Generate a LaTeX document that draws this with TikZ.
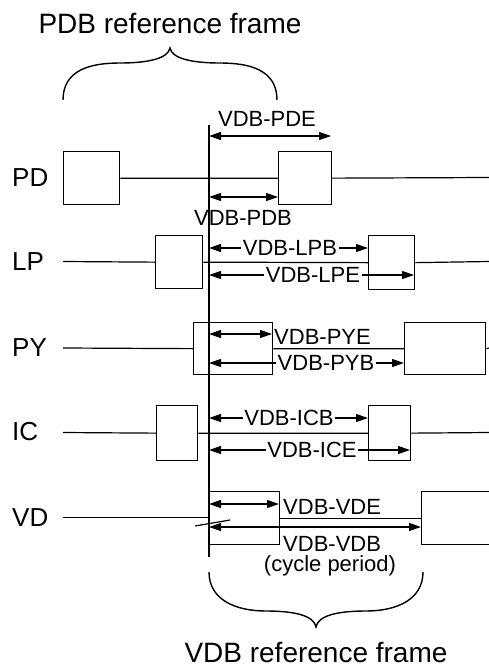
\documentclass[tikz,border=0pt]{standalone}
\usepackage{fontspec}
\setmainfont{Liberation Sans}
\usetikzlibrary{arrows.meta}
\begin{document}
\begin{tikzpicture}[x=1pt,y=-1pt,
  box/.style={draw,line width=1.3pt,inner sep=0pt,anchor=north west},
  sig/.style={line width=1.2pt},
  dim/.style={line width=1.2pt,{Triangle[length=12pt,width=8pt]}-{Triangle[length=12pt,width=8pt]}},
  lab/.style={font=\fontsize{22}{24}\selectfont,inner sep=1.5pt},
  onlab/.style={lab,fill=white},
  sidelab/.style={lab,anchor=west,inner sep=0pt},
  rowlab/.style={font=\fontsize{26}{28}\selectfont,inner sep=0pt,anchor=west},
  titlelab/.style={font=\fontsize{28}{30}\selectfont,inner sep=0pt,anchor=base},
  bracestyle/.style={line width=1.4pt}]
\useasboundingbox (0,0) rectangle (489,667);
\clip (0,0) rectangle (489,667);

% titles
\node[titlelab] (ttop) at (170,33) {PDB reference frame};
\node[titlelab] (tbot) at (316,662) {VDB reference frame};

% braces
\draw[bracestyle] (63,100) .. controls (63,70) and (90,63) .. (120,63)
  .. controls (150,63) and (168,58) .. (170,48)
  .. controls (172,58) and (190,63) .. (220,63)
  .. controls (250,63) and (277,70) .. (277,100);
\draw[bracestyle] (209,572) .. controls (209,600) and (236,611) .. (266,611)
  .. controls (296,611) and (314,616) .. (316,627)
  .. controls (318,616) and (336,611) .. (366,611)
  .. controls (396,611) and (423,600) .. (423,572);

% vertical reference line
\coordinate (vtop) at (209,125);
\coordinate (vbot) at (209,557);
\draw[line width=2pt] (vtop) -- (vbot);

% row labels
\node[rowlab] (lPD) at (12,178) {PD};
\node[rowlab] (lLP) at (12,262) {LP};
\node[rowlab] (lPY) at (12,348) {PY};
\node[rowlab] (lIC) at (12,432) {IC};
\node[rowlab] (lVD) at (12,518) {VD};

% boxes
\node[box,minimum width=56pt,minimum height=53pt] (pd1) at (63,151) {};
\node[box,minimum width=53pt,minimum height=53pt] (pd2) at (278,151) {};
\node[box,minimum width=47pt,minimum height=53pt] (lp1) at (155,235) {};
\node[box,minimum width=46pt,minimum height=54pt] (lp2) at (368,235) {};
\node[box,minimum width=79pt,minimum height=52pt] (py1) at (193,322) {};
\node[box,minimum width=81pt,minimum height=52pt] (py2) at (404,322) {};
\node[box,minimum width=41pt,minimum height=55pt] (ic1) at (156,405) {};
\node[box,minimum width=42pt,minimum height=55pt] (ic2) at (368,405) {};
\node[box,minimum width=70pt,minimum height=53pt] (vd1) at (209,491) {};
\node[box,minimum width=90pt,minimum height=53pt] (vd2) at (421,491) {};

% signal lines
\coordinate (PDr) at (489,177.5);
\coordinate (LPl) at (63,261.5);  \coordinate (LPr) at (489,261.5);
\coordinate (PYl) at (63,348);    \coordinate (PYr) at (489,348);
\coordinate (ICl) at (63,432.5);  \coordinate (ICr) at (489,432.5);
\coordinate (VDl) at (63,517.5);  \coordinate (VDv) at (209,517.5);
\draw[sig] (pd1.east) -- (pd2.west) (pd2.east) -- (PDr);
\draw[sig] (LPl) -- (lp1.west) (lp1.east) -- (lp2.west) (lp2.east) -- (LPr);
\draw[sig] (PYl) -- (py1.west) (py1.east) -- (py2.west) (py2.east) -- (PYr);
\draw[sig] (ICl) -- (ic1.west) (ic1.east) -- (ic2.west) (ic2.east) -- (ICr);
\draw[sig] (VDl) -- (VDv) (vd1.east) -- (vd2.west);
% break mark
\draw[sig] (195,526) -- (230,520);

% PD dimensions
\coordinate (pdeA) at (209,136); \coordinate (pdeB) at (331,136);
\coordinate (pdbA) at (209,197); \coordinate (pdbB) at (278,197);
\draw[dim] (pdeA) -- (pdeB);
\draw[dim] (pdbA) -- (pdbB);
\node[lab] (tpde) at (267,118.5) {VDB-PDE};
\node[lab] (tpdb) at (243,218) {VDB-PDB};

% LP dimensions
\coordinate (lpbA) at (209,248); \coordinate (lpbB) at (368,248);
\coordinate (lpeA) at (209,275); \coordinate (lpeB) at (414,275);
\draw[dim] (lpbA) -- (lpbB);
\draw[dim] (lpeA) -- (lpeB);
\node[onlab] (tlpb) at (290,248) {VDB-LPB};
\node[onlab] (tlpe) at (313,275) {VDB-LPE};

% PY dimensions
\coordinate (pyeA) at (209,334); \coordinate (pyeB) at (272,334);
\coordinate (pybA) at (209,363); \coordinate (pybB) at (404,363);
\draw[dim] (pyeA) -- (pyeB);
\draw[dim] (pybA) -- (pybB);
\node[sidelab] (tpye) at (274,336.5) {VDB-PYE};
\node[onlab] (tpyb) at (326,363) {VDB-PYB};

% IC dimensions
\coordinate (icbA) at (209,418); \coordinate (icbB) at (368,418);
\coordinate (iceA) at (209,450); \coordinate (iceB) at (410,450);
\draw[dim] (icbA) -- (icbB);
\draw[dim] (iceA) -- (iceB);
\node[onlab] (ticb) at (289,418) {VDB-ICB};
\node[onlab] (tice) at (312,450) {VDB-ICE};

% VD dimensions
\coordinate (vdeA) at (209,504); \coordinate (vdeB) at (279,504);
\coordinate (vdbA) at (209,527); \coordinate (vdbB) at (421,527);
\draw[dim] (vdeA) -- (vdeB);
\draw[dim] (vdbA) -- (vdbB);
\node[sidelab] (tvde) at (283,506.5) {VDB-VDE};
\node[sidelab] (tvdb) at (283,543.5) {VDB-VDB};
\node[lab] (tcyc) at (330,566) {(cycle period)};
\end{tikzpicture}
\end{document}
